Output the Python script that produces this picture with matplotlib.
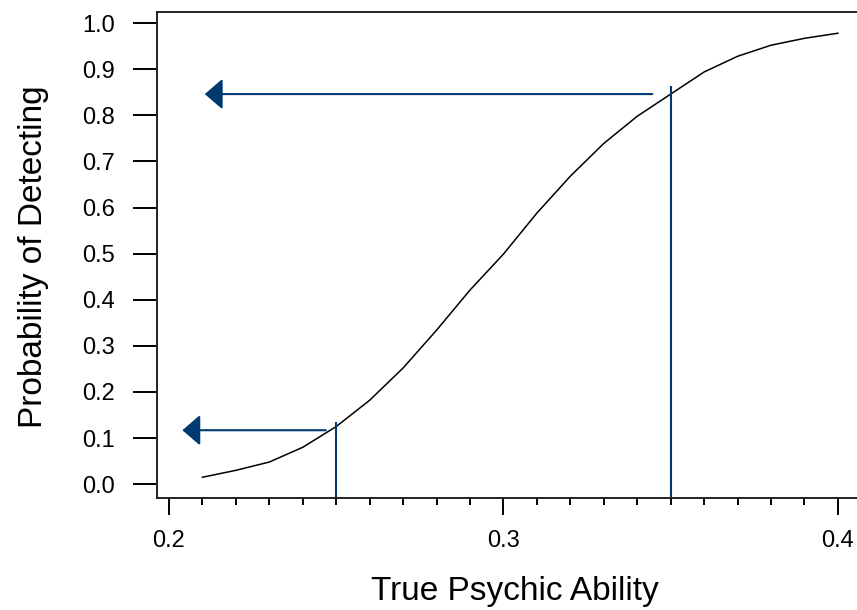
import matplotlib.pyplot as plt
from matplotlib.ticker import MultipleLocator

plt.rcParams['font.family'] = ['Liberation Sans', 'DejaVu Sans']

# power curve: true ability vs probability of detecting
ability = [0.21, 0.22, 0.23, 0.24, 0.25, 0.26, 0.27, 0.28, 0.29, 0.30,
           0.31, 0.32, 0.33, 0.34, 0.35, 0.36, 0.37, 0.38, 0.39, 0.40]
prob = [0.015, 0.030, 0.048, 0.080, 0.125, 0.182, 0.252, 0.334, 0.421, 0.499,
        0.588, 0.668, 0.739, 0.798, 0.846, 0.894, 0.928, 0.952, 0.967, 0.978]

marked = [0.25, 0.35]
marked_prob = [0.117, 0.846]
arrow_tail = [0.2469, 0.3445]
arrow_tip = [0.204, 0.2107]
line_top = [0.132, 0.861]

blue = '#003a70'

fig = plt.figure(figsize=(8.57, 6.10), dpi=100)
ax = fig.add_axes([0.1832, 0.1836, 0.8168, 0.7967])

ax.plot(ability, prob, color='black', lw=1.1)

for i in range(len(marked)):
    ax.plot([marked[i], marked[i]], [-0.03, line_top[i]], color=blue, lw=1.5)
    ax.annotate('', xy=(arrow_tip[i], marked_prob[i]), xytext=(arrow_tail[i], marked_prob[i]),
                arrowprops=dict(arrowstyle='-|>,head_length=1.1,head_width=0.95',
                                color=blue, lw=1.5, shrinkA=0, shrinkB=0))

ax.set_xlim(0.19642, 0.4057)
ax.set_ylim(-0.030, 1.024)

ax.spines['right'].set_visible(False)
for s in ['left', 'bottom', 'top']:
    ax.spines[s].set_linewidth(1.4)
    ax.spines[s].set_color('#222222')

ax.xaxis.set_minor_locator(MultipleLocator(0.01))
ax.set_xticks([0.2, 0.3, 0.4])
ax.set_xticklabels(['0.2', '0.3', '0.4'])
ax.set_yticks([i / 10 for i in range(11)])
ax.set_yticklabels(['%.1f' % (i / 10) for i in range(11)])

ax.tick_params(axis='x', which='major', direction='out', length=12, width=1.4, pad=11, labelsize=17)
ax.tick_params(axis='x', which='minor', direction='out', length=5, width=1.4)
ax.tick_params(axis='y', which='major', direction='out', length=17, width=1.4, pad=13, labelsize=17)

ax.set_xlabel('True Psychic Ability', fontsize=24)
ax.set_ylabel('Probability of Detecting', fontsize=24)
ax.xaxis.set_label_coords(0.511, -0.160)
ax.yaxis.set_label_coords(-0.154, 0.496)

fig.savefig('out.png', dpi=100)
